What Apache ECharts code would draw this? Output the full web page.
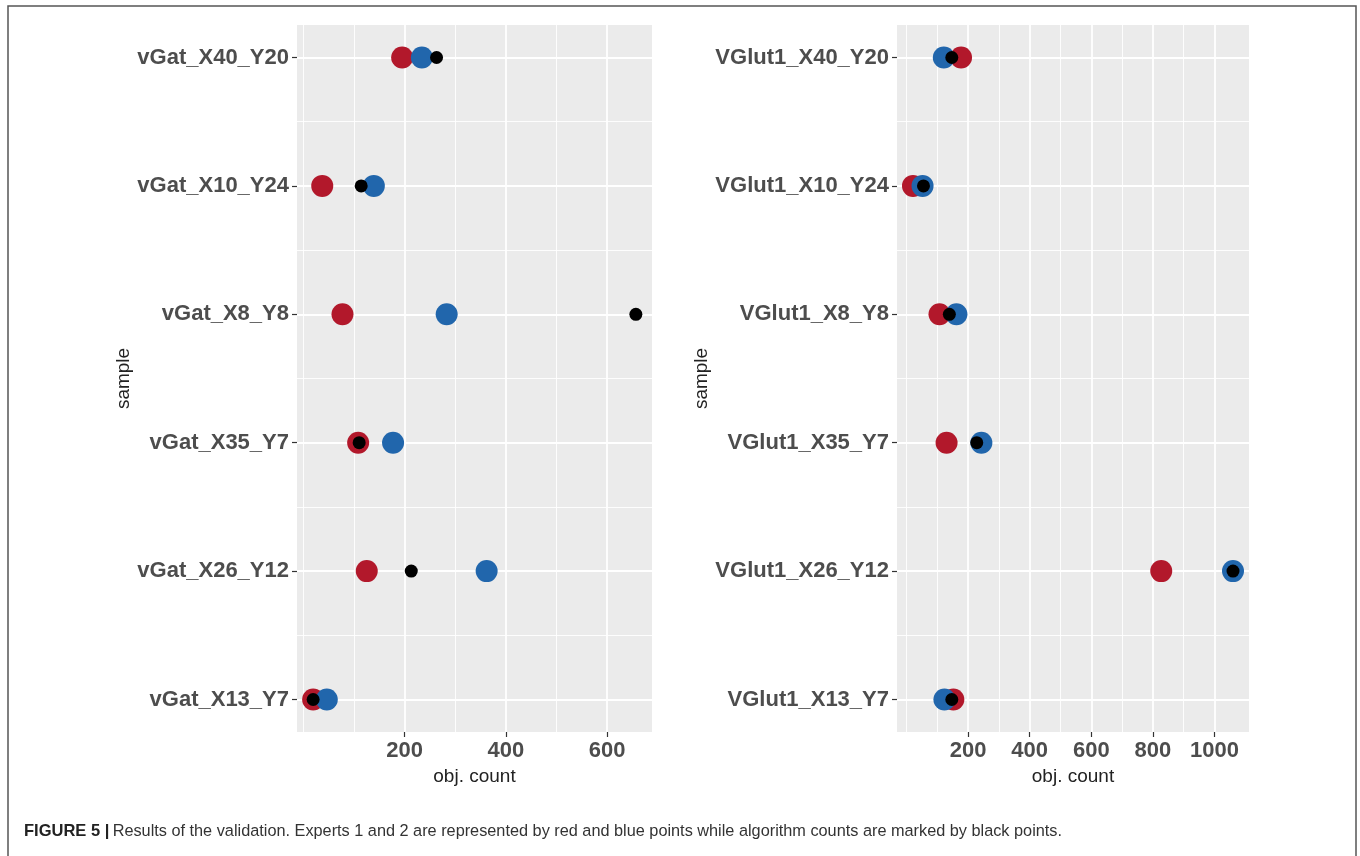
<!DOCTYPE html>
<html><head><meta charset="utf-8">
<script src="https://cdn.jsdelivr.net/npm/echarts@6/dist/echarts.min.js"></script>
<style>html,body{margin:0;padding:0;background:#fff}#c{width:1360px;height:856px}</style>
</head><body><div id="c"></div>
<script>
// ---- data ----
const vgatSamples = ['vGat_X40_Y20','vGat_X10_Y24','vGat_X8_Y8','vGat_X35_Y7','vGat_X26_Y12','vGat_X13_Y7'];
const vgatExpert1 = [195, 37, 77, 108, 125, 19];
const vgatExpert2 = [234, 139, 283, 177, 362, 46];
const vgatAlgorithm = [263, 114, 657, 110, 213, 19];

const vglutSamples = ['VGlut1_X40_Y20','VGlut1_X10_Y24','VGlut1_X8_Y8','VGlut1_X35_Y7','VGlut1_X26_Y12','VGlut1_X13_Y7'];
const vglutExpert1 = [177, 21, 107, 130, 827, 152];
const vglutExpert2 = [121, 52, 162, 243, 1060, 123];
const vglutAlgorithm = [147, 55, 139, 228, 1060, 147];

const vgatMajorTicks = [200, 400, 600];
const vgatMinorTicks = [0, 100, 300, 500];
const vglutMajorTicks = [200, 400, 600, 800, 1000];
const vglutMinorTicks = [0, 100, 300, 500, 700, 900];

// ---- helpers ----
const FONT = '"Liberation Sans", Arial, sans-serif';
const RED = '#B2182B', BLUE = '#2166AC', BLACK = '#000000';
const BG = '#EBEBEB';

function expanded(arrs) {
  const all = [].concat(...arrs);
  const lo = Math.min(...all), hi = Math.max(...all);
  const pad = (hi - lo) * 0.05;
  return [lo - pad, hi + pad];
}
const rowPad = 0.253;
function rowMajors(samples) { return samples.map((s, i) => i); }
function rowMinors(samples) { return samples.slice(1).map((s, i) => i + 0.5); }
function pts(vals) { return vals.map((v, i) => [v, i]); }

const gridRects = [
  {left: 297, top: 25, width: 355, height: 707},
  {left: 897, top: 25, width: 352, height: 707}
];
const panels = [
  {samples: vgatSamples, e1: vgatExpert1, e2: vgatExpert2, alg: vgatAlgorithm, major: vgatMajorTicks, minor: vgatMinorTicks, nameGap: 162},
  {samples: vglutSamples, e1: vglutExpert1, e2: vglutExpert2, alg: vglutAlgorithm, major: vglutMajorTicks, minor: vglutMinorTicks, nameGap: 185}
];

const grid = [], xAxis = [], yAxis = [], series = [];
panels.forEach((p, k) => {
  const g = gridRects[k];
  grid.push({left: g.left, top: g.top, width: g.width, height: g.height, show: true, backgroundColor: BG, borderWidth: 0});
  const [xmin, xmax] = expanded([p.e1, p.e2, p.alg]);
  const ymin = -rowPad, ymax = p.samples.length - 1 + rowPad;
  // main x axis (major grid, labels)
  xAxis.push({
    type: 'value', gridIndex: k, position: 'bottom', min: xmin, max: xmax,
    name: 'obj. count', nameLocation: 'middle', nameGap: 31,
    nameTextStyle: {fontFamily: FONT, fontSize: 19, color: '#222'},
    axisLine: {show: false, onZero: false},
    axisTick: {show: true, length: 5, lineStyle: {color: '#333', width: 1.2}, customValues: p.major},
    axisLabel: {customValues: p.major, margin: 8, fontFamily: FONT, fontSize: 22, fontWeight: 'bold', color: '#4D4D4D',
      formatter: (v) => String(v)},
    splitLine: {show: true, lineStyle: {color: '#FFFFFF', width: 1.8}}
  });
  // minor x grid
  xAxis.push({
    type: 'value', gridIndex: k, position: 'top', min: xmin, max: xmax,
    axisLine: {show: false, onZero: false},
    axisTick: {show: false, customValues: p.minor},
    axisLabel: {show: false, customValues: p.minor},
    splitLine: {show: true, lineStyle: {color: '#FFFFFF', width: 0.9}}
  });
  const ymaj = rowMajors(p.samples), ymin2 = rowMinors(p.samples);
  yAxis.push({
    type: 'value', gridIndex: k, position: 'left', inverse: true, min: ymin, max: ymax,
    name: 'sample', nameLocation: 'middle', nameGap: p.nameGap, nameRotate: 90,
    nameTextStyle: {fontFamily: FONT, fontSize: 19, color: '#222'},
    axisLine: {show: false, onZero: false},
    axisTick: {show: true, length: 5, lineStyle: {color: '#333', width: 1.2}, customValues: ymaj},
    axisLabel: {customValues: ymaj, margin: 8, fontFamily: FONT, fontSize: 22, fontWeight: 'bold', color: '#4D4D4D',
      formatter: (v) => p.samples[Math.round(v)]},
    splitLine: {show: true, lineStyle: {color: '#FFFFFF', width: 1.8}}
  });
  yAxis.push({
    type: 'value', gridIndex: k, position: 'right', inverse: true, min: ymin, max: ymax,
    axisLine: {show: false, onZero: false},
    axisTick: {show: false, customValues: ymin2},
    axisLabel: {show: false, customValues: ymin2},
    splitLine: {show: true, lineStyle: {color: '#FFFFFF', width: 0.9}}
  });
  const xi = k * 2, yi = k * 2;
  series.push({type: 'scatter', name: 'Expert 1', xAxisIndex: xi, yAxisIndex: yi, symbolSize: 22, itemStyle: {color: RED, opacity: 1}, data: pts(p.e1), z: 3});
  series.push({type: 'scatter', name: 'Expert 2', xAxisIndex: xi, yAxisIndex: yi, symbolSize: 22, itemStyle: {color: BLUE, opacity: 1}, data: pts(p.e2), z: 4});
  series.push({type: 'scatter', name: 'Algorithm', xAxisIndex: xi, yAxisIndex: yi, symbolSize: 13, itemStyle: {color: BLACK, opacity: 1}, data: pts(p.alg), z: 5});
});

const chart = echarts.init(document.getElementById('c'), null, {renderer: 'canvas'});
chart.setOption({
  animation: false,
  backgroundColor: '#FFFFFF',
  grid, xAxis, yAxis, series,
  graphic: [
    {type: 'rect', silent: true, shape: {x: 8, y: 6, width: 1348, height: 900},
      style: {fill: 'none', stroke: '#555', lineWidth: 1.5}},
    {type: 'text', left: 24, top: 823, silent: true,
      style: {
        text: '{b|FIGURE 5 |} {r|Results of the validation. Experts 1 and 2 are represented by red and blue points while algorithm counts are marked by black points.}',
        rich: {
          b: {fontFamily: FONT, fontSize: 16.5, fontWeight: 'bold', fill: '#222'},
          r: {fontFamily: FONT, fontSize: 16.3, fill: '#333'}
        }
      }}
  ]
});
</script></body></html>
